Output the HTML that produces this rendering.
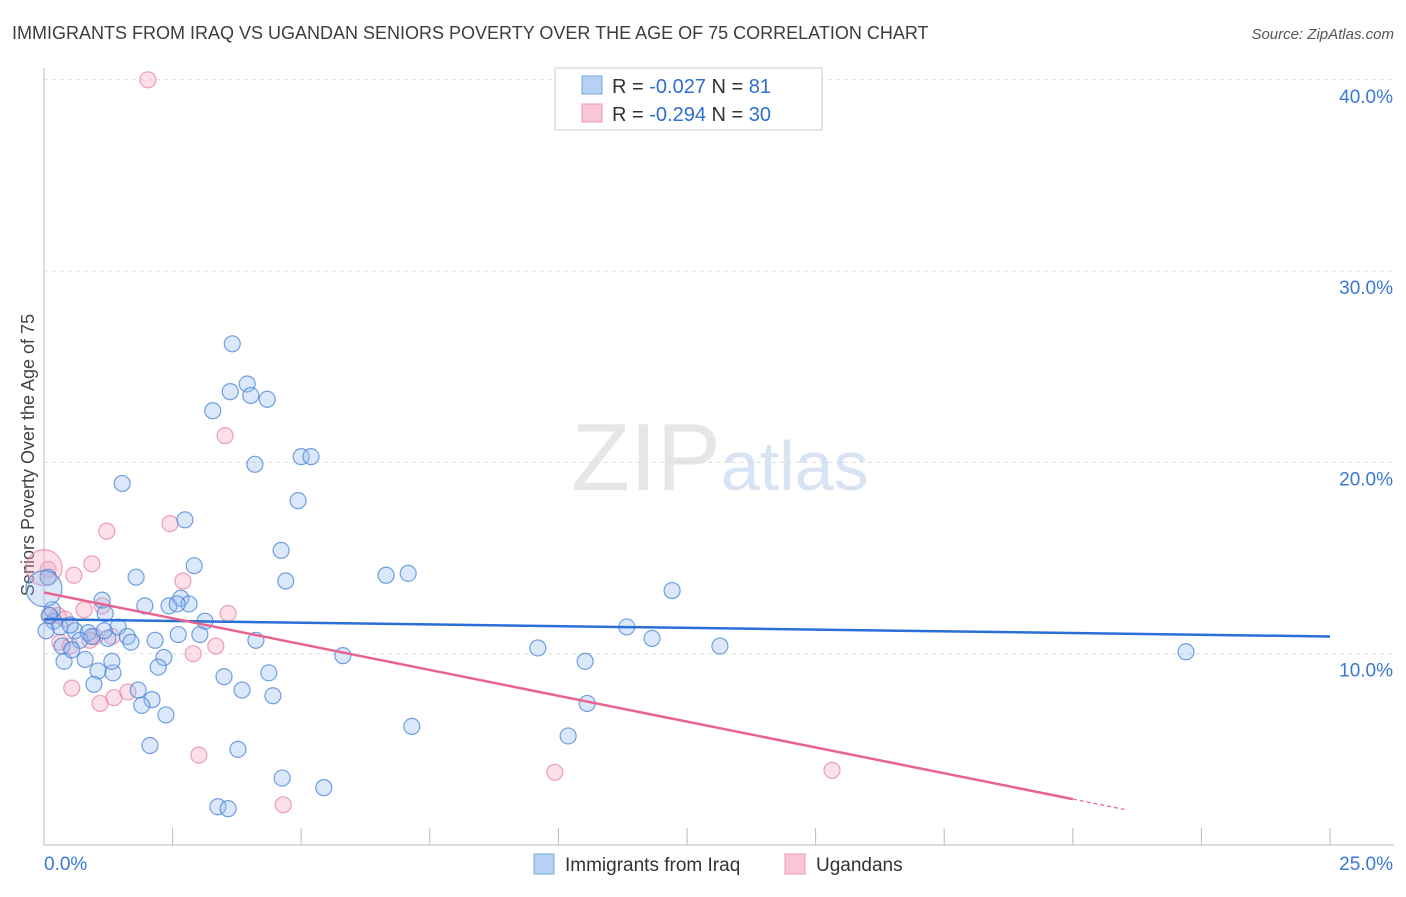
<!DOCTYPE html>
<html><head><meta charset="utf-8"><style>
body{margin:0;background:#fff;font-family:"Liberation Sans",sans-serif;}
svg text{font-family:"Liberation Sans",sans-serif;}
</style></head><body>
<svg id="chart" width="1406" height="892" xmlns="http://www.w3.org/2000/svg">
<text x="12" y="39" font-size="18" fill="#3c3c3c">IMMIGRANTS FROM IRAQ VS UGANDAN SENIORS POVERTY OVER THE AGE OF 75 CORRELATION CHART</text>
<text x="1394" y="39" font-size="15" fill="#555" text-anchor="end" font-style="italic">Source: ZipAtlas.com</text>
<text x="720" y="490" font-size="96" text-anchor="middle" font-family="Liberation Serif" fill="#e6e6e6">ZIP<tspan fill="#d8e4f4" font-family="Liberation Sans" font-size="70">atlas</tspan></text>
<text transform="translate(34,455) rotate(-90)" font-size="18" fill="#444" text-anchor="middle">Seniors Poverty Over the Age of 75</text>
<g id="grid"></g><g id="ticks"></g>
<g id="pts"></g><g id="lines"></g>
<g>
<rect x="555" y="68" width="267" height="62" fill="#fff" stroke="#ccc"/>
<rect x="582" y="76" width="20" height="18" fill="#b7d1f2" stroke="#7aa6e0"/>
<rect x="582" y="104" width="20" height="18" fill="#f8c6d4" stroke="#ee9ab2"/>
<text x="612" y="93" font-size="20" fill="#333">R = <tspan fill="#2f6fd0">-0.027</tspan>   N =  <tspan fill="#2f6fd0">81</tspan></text>
<text x="612" y="121" font-size="20" fill="#333">R = <tspan fill="#2f6fd0">-0.294</tspan>   N = <tspan fill="#2f6fd0">30</tspan></text>
</g>
<g>
<rect x="534" y="854" width="20" height="20" fill="#b7d1f2" stroke="#7aa6e0"/>
<text x="565" y="871" font-size="19" fill="#333">Immigrants from Iraq</text>
<rect x="785" y="854" width="20" height="20" fill="#f8c6d4" stroke="#ee9ab2"/>
<text x="816" y="871" font-size="19" fill="#333">Ugandans</text>
</g>
</svg>
<script>
const xTicks=[0,2.5,5,7.5,10,12.5,15,17.5,20,22.5,25];
const yTicks=[10,20,30,40];
const yTickLabels=["10.0%","20.0%","30.0%","40.0%"];
const blueX=[3.66,3.95,3.62,4.02,4.34,3.28,4.1,5.0,5.19,1.52,4.94,2.74,4.61,2.92,1.79,4.7,6.65,7.08,12.21,1.13,1.96,2.43,2.66,2.82,2.59,1.19,3.13,1.44,1.62,1.69,2.16,2.61,3.03,4.12,11.33,11.82,13.14,9.6,22.2,5.81,10.52,2.33,2.22,1.05,1.34,3.5,4.37,0.39,0.8,1.32,0.19,0.31,0.6,0.86,0.7,0.93,1.24,0.35,0.54,0.16,0.97,1.83,3.85,4.45,2.1,1.9,2.37,10.56,7.15,2.06,3.77,10.19,4.63,5.44,3.38,3.58,0.08,0.1,0.04,0.51,1.17,0.0];
const blueY=[26.2,24.1,23.7,23.5,23.3,22.7,19.9,20.3,20.3,18.9,18.0,17.0,15.4,14.6,14.0,13.8,14.1,14.2,13.3,12.8,12.5,12.5,12.9,12.6,12.6,12.1,11.7,11.4,10.9,10.6,10.7,11.0,11.0,10.7,11.4,10.8,10.4,10.3,10.1,9.9,9.6,9.8,9.3,9.1,9.0,8.8,9.0,9.6,9.7,9.6,11.7,11.4,11.2,11.1,10.7,10.9,10.8,10.4,10.2,12.3,8.4,8.1,8.1,7.8,7.6,7.3,6.8,7.4,6.2,5.2,5.0,5.7,3.5,3.0,2.0,1.9,14.0,12.0,11.2,11.5,11.2,13.4];
const blueR=[8,8,8,8,8,8,8,8,8,8,8,8,8,8,8,8,8,8,8,8,8,8,8,8,8,8,8,8,8,8,8,8,8,8,8,8,8,8,8,8,8,8,8,8,8,8,8,8,8,8,8,8,8,8,8,8,8,8,8,8,8,8,8,8,8,8,8,8,8,8,8,8,8,8,8,8,8,8,8,8,8,18];
const pinkX=[2.02,3.52,1.22,2.45,0.93,0.58,2.7,3.58,1.13,0.78,0.27,0.41,0.99,1.32,0.31,0.51,3.34,2.9,0.54,1.09,1.36,1.63,3.01,9.93,15.32,4.65,0.08,0.89,0.12,0.0];
const pinkY=[40.0,21.4,16.4,16.8,14.7,14.1,13.8,12.1,12.5,12.3,12.0,11.8,10.9,10.9,10.6,10.4,10.4,10.0,8.2,7.4,7.7,8.0,4.7,3.8,3.9,2.1,14.4,10.7,12.0,14.5];
const pinkR=[8,8,8,8,8,8,8,8,8,8,8,8,8,8,8,8,8,8,8,8,8,8,8,8,8,8,8,8,8,18];
const blueTrend=[11.8,10.9];
const pinkTrend=[13.2,-0.3];
const xs=v=>44+v*51.44, ys=v=>845-v*19.13;
const NS="http://www.w3.org/2000/svg";
function mk(t,a,p){const e=document.createElementNS(NS,t);for(const k in a)e.setAttribute(k,a[k]);p.appendChild(e);return e;}
const grid=document.getElementById('grid'),ticks=document.getElementById('ticks');
const ax=mk('line',{x1:44,y1:68,x2:44,y2:845,stroke:'#bbb'},grid);


const bx=mk('line',{x1:44,y1:845,x2:1394,y2:845,stroke:'#bbb'},grid);


yTicks.forEach((t,i)=>{
 const g=mk('line',{x1:44,y1:ys(t),x2:1394,y2:ys(t),stroke:'#ddd','stroke-dasharray':'4,4'},grid);
 
 
 const l=mk('text',{x:1393,y:ys(t)+23,'font-size':19,fill:'#3a78d4','text-anchor':'end'},ticks);
 
 
 l.textContent=yTickLabels[i];
});
xTicks.forEach(t=>{
 const m=mk('line',{x1:xs(t),y1:828,x2:xs(t),y2:845,stroke:'#bbb'},ticks);
 
 
});
const xl0=mk('text',{x:44,y:870,'font-size':19,fill:'#3a78d4'},ticks);


xl0.textContent='0.0%';
const xl1=mk('text',{x:1393,y:870,'font-size':19,fill:'#3a78d4','text-anchor':'end'},ticks);


xl1.textContent='25.0%';
const pts=document.getElementById('pts');
pinkX.forEach((x,i)=>{
 const c=mk('circle',{cx:xs(x),cy:ys(pinkY[i]),r:pinkR[i],fill:'rgba(244,166,190,0.35)',stroke:'rgba(234,128,160,0.75)','stroke-width':1.2},pts);
 
 
});
blueX.forEach((x,i)=>{
 const c=mk('circle',{cx:xs(x),cy:ys(blueY[i]),r:blueR[i],fill:'rgba(150,190,240,0.35)',stroke:'rgba(70,130,215,0.75)','stroke-width':1.2},pts);
 
 
});
const lines=document.getElementById('lines');
const bl=mk('line',{x1:xs(0),y1:ys(blueTrend[0]),x2:xs(25),y2:ys(blueTrend[1]),stroke:'#2a6fd6','stroke-width':2.5},lines);


const pAt=x=>pinkTrend[0]+(pinkTrend[1]-pinkTrend[0])*x/25;
const pl=mk('line',{x1:xs(0),y1:ys(pAt(0)),x2:xs(20),y2:ys(pAt(20)),stroke:'#e8648f','stroke-width':2.5},lines);


const pd=mk('line',{x1:xs(20),y1:ys(pAt(20)),x2:xs(21),y2:ys(pAt(21)),stroke:'#e8648f','stroke-width':1.2,'stroke-dasharray':'4,3'},lines);


</script>
</body></html>
